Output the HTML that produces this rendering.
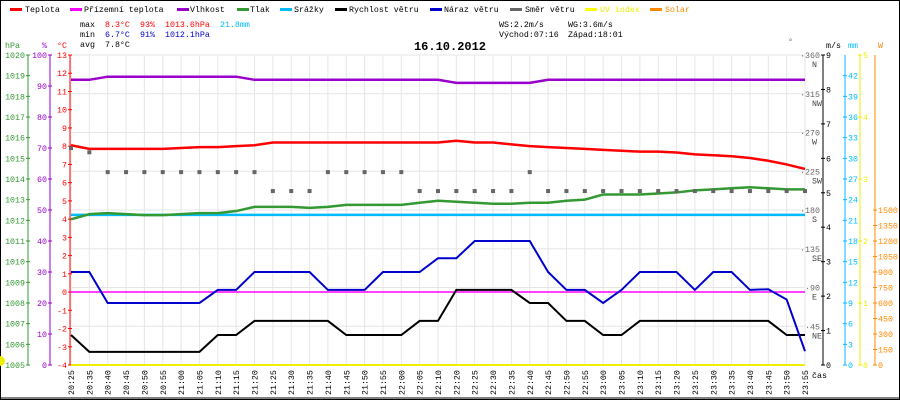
<!DOCTYPE html>
<html><head><meta charset="utf-8"><style>
body{margin:0;background:#fff}
svg{display:block;font-family:"Liberation Mono",monospace;font-size:8.3px}
</style></head><body>
<svg id="c" width="900" height="400" viewBox="0 0 900 400"></svg>
<script>
const categories=["20:25","20:35","20:40","20:45","20:50","20:55","21:00","21:05","21:10","21:15","21:20","21:25","21:30","21:35","21:40","21:45","21:50","21:55","22:00","22:05","22:10","22:20","22:25","22:30","22:35","22:40","22:45","22:50","22:55","23:00","23:05","23:10","23:15","23:20","23:25","23:30","23:35","23:40","23:45","23:50","23:55"];
const temperature=[8.05,7.85,7.85,7.85,7.85,7.85,7.9,7.95,7.95,8.0,8.05,8.2,8.2,8.2,8.2,8.2,8.2,8.2,8.2,8.2,8.2,8.3,8.2,8.2,8.1,8.0,7.95,7.9,7.85,7.8,7.75,7.7,7.7,7.65,7.55,7.5,7.45,7.35,7.2,7.0,6.75];
const dewPoint=[0,0,0,0,0,0,0,0,0,0,0,0,0,0,0,0,0,0,0,0,0,0,0,0,0,0,0,0,0,0,0,0,0,0,0,0,0,0,0,0,0];
const humidity=[92,92,93,93,93,93,93,93,93,93,92,92,92,92,92,92,92,92,92,92,92,91,91,91,91,91,92,92,92,92,92,92,92,92,92,92,92,92,92,92,92];
const pressure=[1012.05,1012.3,1012.35,1012.3,1012.25,1012.25,1012.3,1012.35,1012.35,1012.45,1012.65,1012.65,1012.65,1012.6,1012.65,1012.75,1012.75,1012.75,1012.75,1012.85,1012.95,1012.9,1012.85,1012.8,1012.8,1012.85,1012.85,1012.95,1013.0,1013.25,1013.25,1013.25,1013.3,1013.35,1013.45,1013.5,1013.55,1013.6,1013.55,1013.5,1013.5];
const rain=[21.8,21.8,21.8,21.8,21.8,21.8,21.8,21.8,21.8,21.8,21.8,21.8,21.8,21.8,21.8,21.8,21.8,21.8,21.8,21.8,21.8,21.8,21.8,21.8,21.8,21.8,21.8,21.8,21.8,21.8,21.8,21.8,21.8,21.8,21.8,21.8,21.8,21.8,21.8,21.8,21.8];
const windSpeed=[0.87,0.38,0.38,0.38,0.38,0.38,0.38,0.38,0.87,0.87,1.28,1.28,1.28,1.28,1.28,0.87,0.87,0.87,0.87,1.28,1.28,2.18,2.18,2.18,2.18,1.8,1.8,1.28,1.28,0.87,0.87,1.28,1.28,1.28,1.28,1.28,1.28,1.28,1.28,0.87,0.87];
const windGust=[2.7,2.7,1.8,1.8,1.8,1.8,1.8,1.8,2.18,2.18,2.7,2.7,2.7,2.7,2.18,2.18,2.18,2.7,2.7,2.7,3.1,3.1,3.6,3.6,3.6,3.6,2.7,2.18,2.18,1.8,2.18,2.7,2.7,2.7,2.18,2.7,2.7,2.18,2.2,1.9,0.4];
const windDir=[252,247,224,224,224,224,224,224,224,224,224,202,202,202,224,224,224,224,224,202,202,202,202,202,202,224,202,202,202,202,202,202,202,202,202,202,202,202,202,202,202];
const uvIndex=[0,0,0,0,0,0,0,0,0,0,0,0,0,0,0,0,0,0,0,0,0,0,0,0,0,0,0,0,0,0,0,0,0,0,0,0,0,0,0,0,0];
const solar=[0,0,0,0,0,0,0,0,0,0,0,0,0,0,0,0,0,0,0,0,0,0,0,0,0,0,0,0,0,0,0,0,0,0,0,0,0,0,0,0,0];

const S=document.getElementById('c'),NS='http://www.w3.org/2000/svg';
const X0=71,X1=805,YT=55,YB=365;
const xs=i=>X0+i*(X1-X0)/(categories.length-1);
const lin=(a,b)=>v=>YB-(v-a)/(b-a)*(YB-YT);
const yT=lin(-4,13),yH=lin(0,100),yP=lin(1005,1020),yW=lin(0,9),yR=lin(0,45),yD=lin(0,360),yU=lin(0,5),yS=lin(0,3000);
function el(t,a,p){const e=document.createElementNS(NS,t);for(const k in a)e.setAttribute(k,a[k]);(p||S).appendChild(e);return e;}
function tx(x,y,s,f,anchor,extra){const e=el('text',Object.assign({x:x,y:y,fill:f||'#000','text-anchor':anchor||'start'},extra||{}));e.textContent=s;return e;}

el('rect',{x:0.5,y:0.5,width:899,height:399,fill:'#fff',stroke:'#000'});
// grid
const grid=el('g',{});


categories.forEach((c,i)=>el('line',{x1:xs(i),x2:xs(i),y1:YT,y2:YB,stroke:'#e6e6e6'},grid));
for(let d=0;d<=360;d+=45)el('line',{x1:X0,x2:X1,y1:yD(d),y2:yD(d),stroke:'#e6e6e6'},grid);

// legend
const leg=[["Teplota","#f00",10,25],["Přízemní teplota","#f0f",70,84],["Vlhkost","#90c",177,190],["Tlak","#393",237,250],["Srážky","#0bf",280,294],["Rychlost větru","#000",335,349],["Náraz větru","#00c",430,444],["Směr větru","#666",510,525],["UV index","#ff0",585,600],["Solar","#f80",650,665]];
leg.forEach(l=>{const g=el('g',{});
el('rect',{x:l[2],y:8,width:12,height:3,fill:l[1]},g);const t=tx(l[3],12,l[0],l[0]=="UV index"?'#ee0':l[0]=="Solar"?'#f80':'#000');g.appendChild(t);});
// stats
tx(80,27,'max');tx(105,27,'8.3°C','#f00');tx(140,27,'93%','#f00');tx(165,27,'1013.6hPa','#f00');tx(220,27,'21.8mm','#0bf');
tx(80,37,'min');tx(105,37,'6.7°C','#00c');tx(140,37,'91%','#00c');tx(165,37,'1012.1hPa','#00c');
tx(80,47,'avg');tx(105,47,'7.8°C');
tx(499,27,'WS:2.2m/s');tx(568,27,'WG:3.6m/s');tx(499,37,'Východ:07:16');tx(568,37,'Západ:18:01');
const ti=tx(450,50,'16.10.2012','#000','middle',{'font-size':'12px','font-weight':'bold'});


// axes
function vaxis(x,col,scale,from,to,step,side,fmt,name){
 const g=el('g',{});
 el('line',{x1:x,x2:x,y1:YT,y2:YB,stroke:col},g);
 for(let v=from;v<=to+1e-9;v+=step){const y=scale(v);el('line',{x1:x-2,x2:x+2,y1:y,y2:y,stroke:col},g);
  const t=tx(side<0?x-3:x+3,y+3,fmt?fmt(v):String(Math.round(v*10)/10),col,side<0?'end':'start');g.appendChild(t);}
 return g;}
vaxis(28,'#393',yP,1005,1020,1,-1,null,'pressure-axis');
vaxis(50,'#90c',yH,0,100,10,-1,null,'humidity-axis');
vaxis(70,'#f00',yT,-4,13,1,-1,null,'temperature-axis');
vaxis(823,'#000',yW,0,9,1,1,null,'wind-speed-axis');
vaxis(845,'#0bf',yR,0,42,3,1,null,'rain-axis');
vaxis(860,'#ee0',yU,0,5,1,1,null,'uv-axis');
vaxis(875,'#f80',yS,0,1500,150,1,null,'solar-axis');
el('line',{x1:875,x2:875,y1:YT,y2:YB,stroke:'#f80'});
const dn={0:'',45:'NE',90:'E',135:'SE',180:'S',225:'SW',270:'W',315:'NW',360:'N'};
const dg=el('g',{});
for(let d=45;d<=360;d+=45){const y=yD(d);dg.appendChild(tx(820,y+3,'·'+d,'#666','end'));dg.appendChild(tx(812,y+12,dn[d],'#444'));}
tx(5,48,'hPa','#393');tx(42,48,'%','#90c');tx(57,48,'°C','#f00');tx(788,44,'°','#666');tx(826,48,'m/s');tx(848,48,'mm','#0bf');tx(878,48,'W','#f80');
tx(812,378,'čas');
// x labels
const xg=el('g',{});
categories.forEach((c,i)=>{const x=xs(i)+3;xg.appendChild(tx(x,395,c,'#000','start',{transform:`rotate(-90 ${x} 395)`}));});
el('line',{x1:0,x2:900,y1:398,y2:398,stroke:'#000'});

// series
function line(arr,scale,col,w,name){const p=el('polyline',{points:arr.map((v,i)=>xs(i)+','+scale(v)).join(' '),fill:'none',stroke:col,'stroke-width':w});
 }
line(solar,yS,'#f80',2,'solar-line');
line(dewPoint,yT,'#f0f',1.5,'dew-point-line');
line(rain,yR,'#0bf',2.5,'rain-line');
line(pressure,yP,'#393',2.5,'pressure-line');
line(humidity,yH,'#90c',2.5,'humidity-line');
line(temperature,yT,'#f00',2.5,'temperature-line');
line(windSpeed,yW,'#000',2,'wind-speed-line');
line(windGust,yW,'#00c',2,'wind-gust-line');
line(uvIndex,yU,'#ee0',2,'uv-line');
windDir.forEach((d,i)=>{const r=el('rect',{x:xs(i)-2,y:yD(d)-2,width:4,height:4,fill:'#666'});
 });
el('path',{d:'M0,356 A5,5 0 0 1 0,366 Z',fill:'#ee0'});
</script>
</body></html>
